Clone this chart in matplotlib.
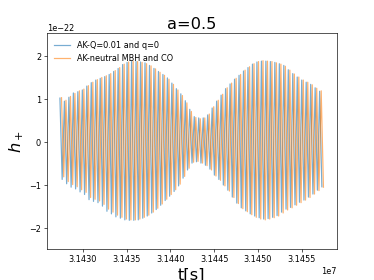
import numpy as np
import matplotlib
matplotlib.use("Agg")
import matplotlib.pyplot as plt

# ---- data (amplitudes in units of 1e-22) ----
T_START = 31427360.0      # time of first blue crest [s]
PERIOD = 512.0            # crest-to-crest spacing [s]
ORANGE_LAG = 180.0        # orange crests lag the blue ones [s]

blue_top = [1.01, 0.94, 1.03, 1.13, 1.16, 1.20, 1.29, 1.37, 1.43, 1.47,
            1.51, 1.56, 1.63, 1.70, 1.79, 1.84, 1.86, 1.86, 1.85, 1.83,
            1.77, 1.70, 1.63, 1.56, 1.48, 1.36, 1.23, 1.11, 0.95, 0.75,
            0.58, 0.55, 0.55, 0.62, 0.78, 0.94, 1.08, 1.23, 1.34, 1.45,
            1.54, 1.64, 1.72, 1.80, 1.85, 1.87, 1.87, 1.86, 1.84, 1.81,
            1.77, 1.67, 1.58, 1.50, 1.43, 1.38, 1.33, 1.25, 1.17]
blue_bottom = [0.88, 0.98, 1.06, 1.10, 1.17, 1.23, 1.35, 1.39, 1.42, 1.50,
               1.62, 1.68, 1.75, 1.78, 1.82, 1.83, 1.83, 1.82, 1.78, 1.73,
               1.66, 1.58, 1.48, 1.37, 1.27, 1.16, 1.03, 0.85, 0.66, 0.50,
               0.47, 0.50, 0.55, 0.64, 0.78, 0.88, 1.01, 1.13, 1.29, 1.43,
               1.54, 1.61, 1.68, 1.73, 1.77, 1.80, 1.79, 1.76, 1.72, 1.64,
               1.57, 1.53, 1.47, 1.41, 1.36, 1.29, 1.22, 1.13, 1.05]
orange_top = [1.02, 0.96, 1.05, 1.12, 1.18, 1.22, 1.30, 1.38, 1.44, 1.49,
              1.53, 1.58, 1.65, 1.72, 1.80, 1.85, 1.87, 1.86, 1.84, 1.81,
              1.76, 1.69, 1.61, 1.54, 1.45, 1.33, 1.20, 1.07, 0.90, 0.70,
              0.56, 0.53, 0.55, 0.64, 0.81, 0.96, 1.10, 1.25, 1.36, 1.47,
              1.56, 1.66, 1.74, 1.81, 1.86, 1.88, 1.87, 1.86, 1.83, 1.80,
              1.75, 1.66, 1.57, 1.50, 1.43, 1.38, 1.32, 1.24, 1.18]
orange_bottom = [0.82, 0.93, 1.00, 1.05, 1.12, 1.18, 1.30, 1.34, 1.38, 1.46,
                 1.57, 1.64, 1.71, 1.76, 1.80, 1.82, 1.82, 1.80, 1.76, 1.71,
                 1.64, 1.55, 1.45, 1.34, 1.23, 1.12, 0.99, 0.81, 0.62, 0.48,
                 0.46, 0.50, 0.56, 0.66, 0.80, 0.90, 1.03, 1.15, 1.30, 1.44,
                 1.56, 1.63, 1.70, 1.76, 1.80, 1.82, 1.80, 1.77, 1.73, 1.66,
                 1.59, 1.54, 1.48, 1.42, 1.36, 1.30, 1.22, 1.14, 1.06]

labels = ["AK-Q=0.01 and q=0", "AK-neutral MBH and CO"]
title = "a=0.5"


def waveform(tops, bottoms, t0):
    n = len(tops)
    k = np.arange(n)
    t_top = t0 + k * PERIOD
    t_bot = t_top + PERIOD / 2.0
    t = np.empty(2 * n)
    h = np.empty(2 * n)
    t[0::2] = t_top
    t[1::2] = t_bot
    h[0::2] = np.array(tops)
    h[1::2] = -np.array(bottoms)
    return t, h * 1e-22


tb, hb = waveform(blue_top, blue_bottom, T_START)
to, ho = waveform(orange_top, orange_bottom, T_START + ORANGE_LAG)

fig = plt.figure(figsize=(6.4, 4.8), dpi=58.44)
ax = fig.add_subplot(111)
ax.plot(tb, hb, color="#1f77b4", alpha=0.6, lw=1.5, label=labels[0])
ax.plot(to, ho, color="#ff7f0e", alpha=0.6, lw=1.5, label=labels[1])

ax.set_ylim(-2.5e-22, 2.52e-22)
ax.xaxis.get_major_formatter().set_useOffset(False)
ax.set_title(title, fontsize=20)
ax.set_xlabel("t[s]", fontsize=20)
ax.set_ylabel("$h_+$", fontsize=20)
ax.legend(loc="upper left", frameon=False)

fig.savefig("out.png", dpi=58.44)
